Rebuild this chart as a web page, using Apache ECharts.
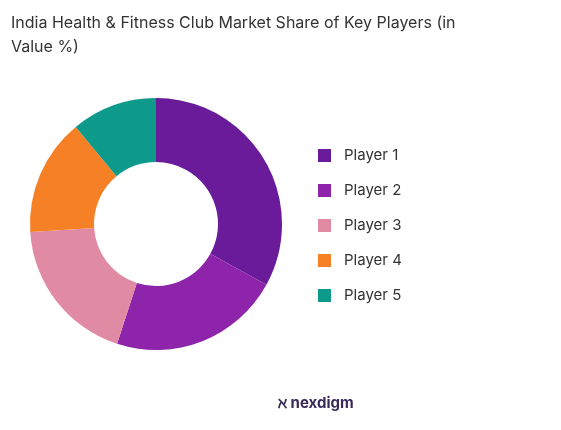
<!DOCTYPE html>
<html><head><meta charset="utf-8">
<script src="https://cdn.jsdelivr.net/npm/echarts@6/dist/echarts.min.js"></script>
<style>html,body{margin:0;padding:0;background:#fff}#c{width:561px;height:430px}</style>
</head><body><div id="c"></div>
<script>
const categories = ["Player 1","Player 2","Player 3","Player 4","Player 5"];
const values = [33, 22, 19, 15, 11];
const colors = ["#6A1B9A","#8E24AA","#E08BA3","#F58025","#0E9A8A"];
const chart = echarts.init(document.getElementById('c'));
chart.setOption({
  animation:false,
  title:{text:"India Health & Fitness Club Market Share of Key Players (in\nValue %)",left:6,top:6,
    textStyle:{fontFamily:"Inter",fontSize:16,fontWeight:"normal",color:"#333",lineHeight:24}},
  color:colors,
  legend:{orient:"vertical",left:313,top:143,itemWidth:13,itemHeight:13,itemGap:20,icon:"rect",
    textStyle:{fontFamily:"Inter",fontSize:15,color:"#333",padding:[0,0,0,8]},data:categories},
  graphic:[{type:"text",left:278,top:396,style:{text:"\u2135 nexdigm",fontFamily:"Inter",fontSize:15,fontWeight:"bold",fill:"#3a2a5a"}}],
  series:[{type:"pie",center:[156,224],radius:[62,126],startAngle:90,clockwise:true,
    label:{show:false},labelLine:{show:false},
    data:categories.map((n,i)=>({name:n,value:values[i]}))}]
});
</script></body></html>
